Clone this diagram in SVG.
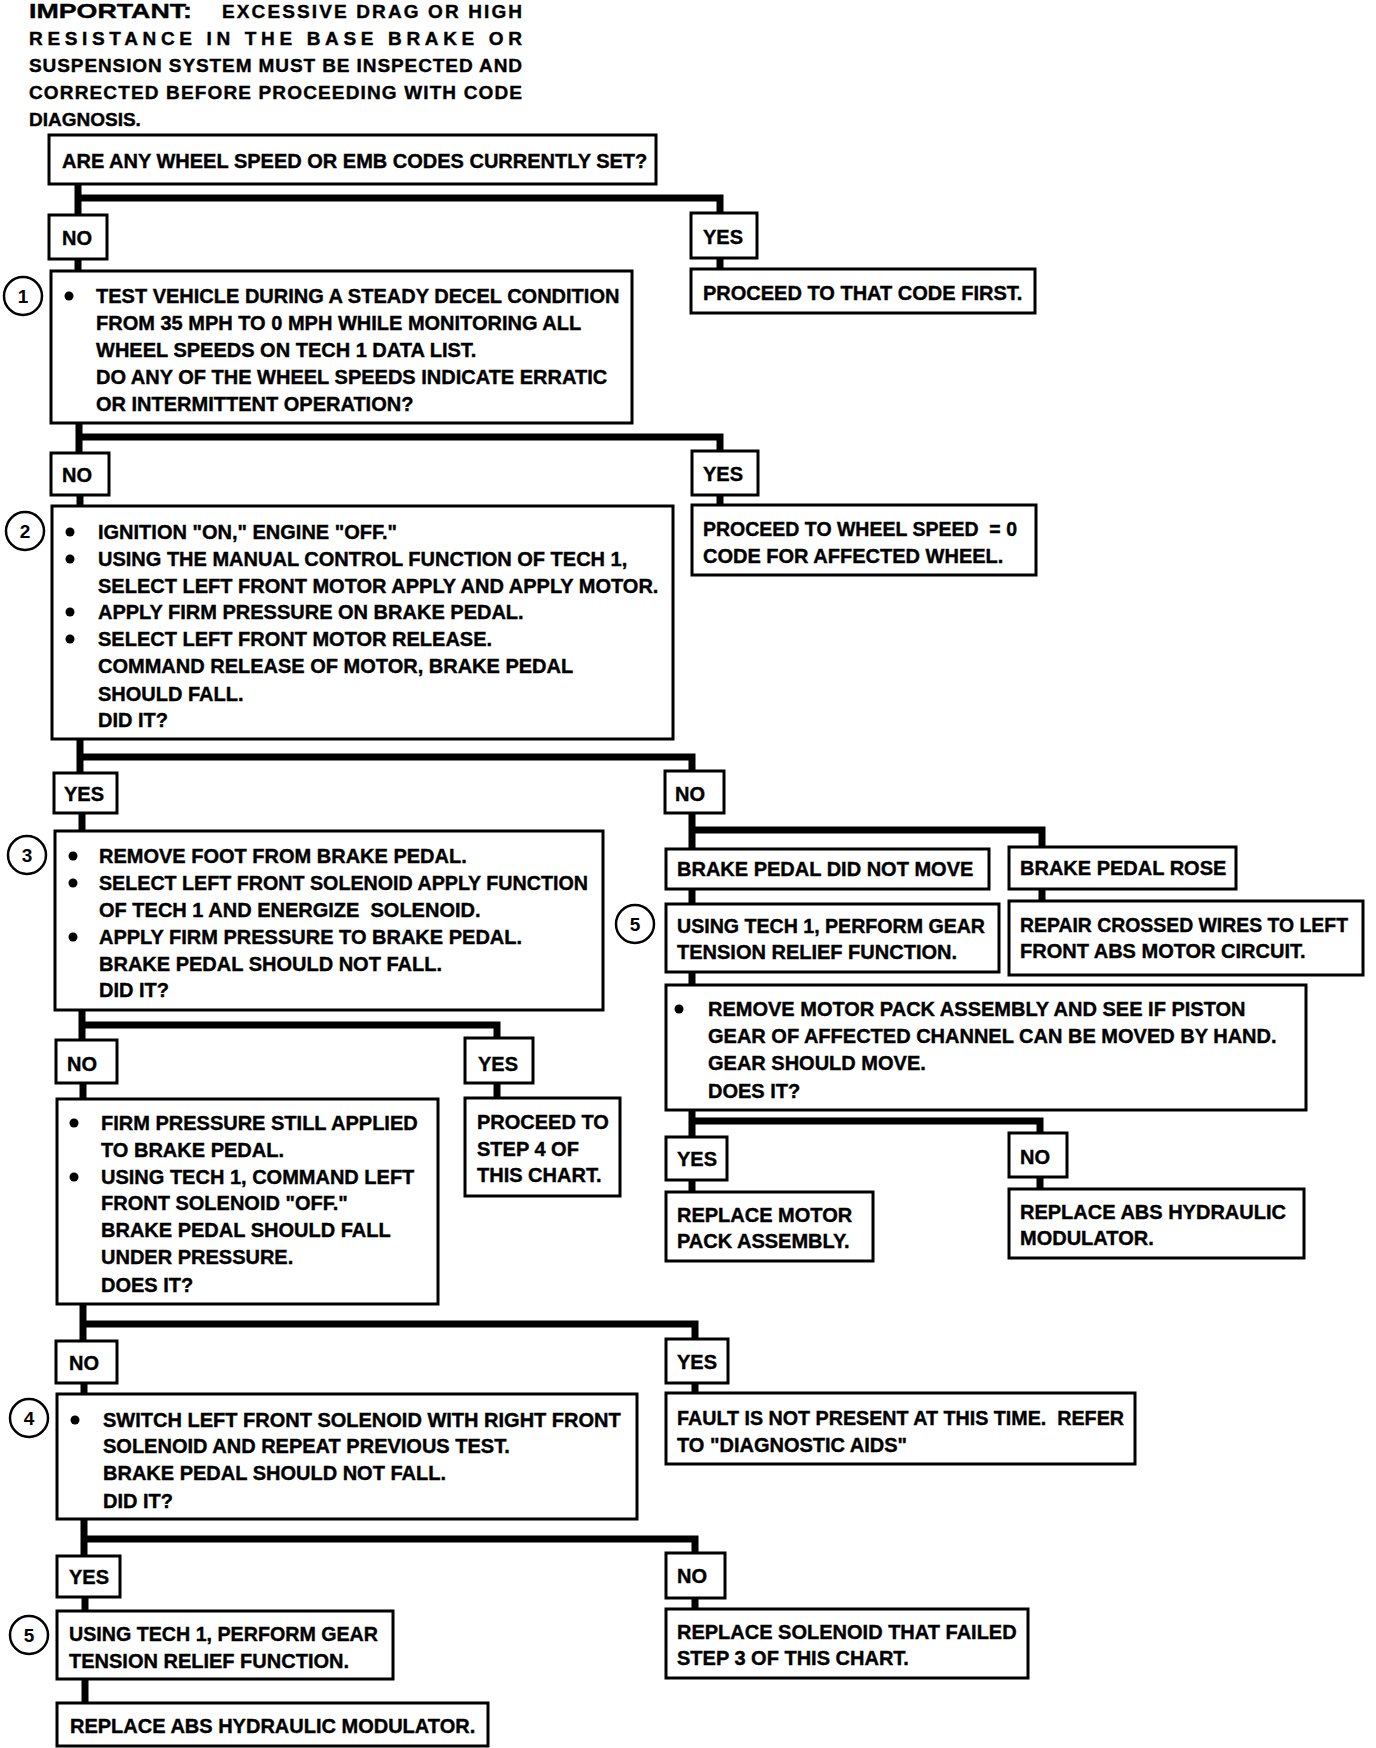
<svg xmlns="http://www.w3.org/2000/svg" width="1376" height="1748" viewBox="0 0 1376 1748">
<style>
.box{fill:#fff;stroke:#000;stroke-width:3}
.t{font-family:"Liberation Sans",Arial,sans-serif;font-weight:bold;font-size:20px;fill:#000;stroke:#000;stroke-width:0.4}
.h{font-family:"Liberation Sans",Arial,sans-serif;font-weight:bold;font-size:19px;fill:#000;stroke:#000;stroke-width:0.4}
.c{fill:none;stroke:#000;stroke-width:7;stroke-linejoin:miter}
.num{fill:#fff;stroke:#000;stroke-width:2.5}
.nt{font-family:"Liberation Sans",Arial,sans-serif;font-weight:bold;font-size:19px;fill:#000;text-anchor:middle}
.bul{fill:#000}
</style>
<rect width="1376" height="1748" fill="#fff"/>

<g id="header">
<text class="h" x="29" y="18" style="font-size:21px" textLength="163" lengthAdjust="spacingAndGlyphs">IMPORTANT:</text>
<text class="h" x="222" y="18" textLength="300" lengthAdjust="spacing">EXCESSIVE DRAG OR HIGH</text>
<text class="h" x="29" y="45" textLength="493" lengthAdjust="spacing">RESISTANCE IN THE BASE BRAKE OR</text>
<text class="h" x="29" y="72" textLength="493" lengthAdjust="spacing">SUSPENSION SYSTEM MUST BE INSPECTED AND</text>
<text class="h" x="29" y="99" textLength="493" lengthAdjust="spacing">CORRECTED BEFORE PROCEEDING WITH CODE</text>
<text class="h" x="29" y="126">DIAGNOSIS.</text>
</g>

<g id="connectors">
<path class="c" d="M78,184 V215 M78,198 H720 V213"/>
<path class="c" d="M720,258 V269"/>
<path class="c" d="M78,258 V272"/>
<path class="c" d="M79,423 V453 M79,437 H720 V451"/>
<path class="c" d="M720,495 V505"/>
<path class="c" d="M80,495 V506"/>
<path class="c" d="M80,739 V773 M80,757 H692 V771"/>
<path class="c" d="M82,813 V831"/>
<path class="c" d="M692,813 V849 M692,830 H1042 V847"/>
<path class="c" d="M692,889 V904"/>
<path class="c" d="M1042,889 V901"/>
<path class="c" d="M692,972 V985"/>
<path class="c" d="M692,1110 V1137 M692,1121 H1040 V1133"/>
<path class="c" d="M692,1180 V1192"/>
<path class="c" d="M1040,1177 V1189"/>
<path class="c" d="M82,1010 V1040 M82,1025 H497 V1038"/>
<path class="c" d="M497,1083 V1098"/>
<path class="c" d="M83,1083 V1099"/>
<path class="c" d="M83,1304 V1341 M83,1324 H695 V1339"/>
<path class="c" d="M695,1383 V1393"/>
<path class="c" d="M84,1383 V1394"/>
<path class="c" d="M84,1519 V1556 M84,1539 H695 V1553"/>
<path class="c" d="M695,1598 V1609"/>
<path class="c" d="M85,1597 V1611"/>
<path class="c" d="M85,1679 V1703"/>
</g>

<g id="q_codes">
<rect class="box" x="49" y="135" width="607" height="49"/>
<text class="t" x="62" y="168">ARE ANY WHEEL SPEED OR EMB CODES CURRENTLY SET?</text>
</g>
<g id="no1"><rect class="box" x="49" y="215" width="58" height="44"/><text class="t" x="62" y="245">NO</text></g>
<g id="yes1"><rect class="box" x="691" y="213" width="66" height="45"/><text class="t" x="703" y="244">YES</text></g>
<g id="proceed_code"><rect class="box" x="691" y="269" width="344" height="44"/><text class="t" x="703" y="300">PROCEED TO THAT CODE FIRST.</text></g>

<g id="step1">
<circle class="num" cx="23" cy="296" r="19"/><text class="nt" x="23" y="303">1</text>
<rect class="box" x="51" y="271" width="581" height="152"/>
<circle class="bul" cx="69" cy="296" r="4.5"/>
<text class="t" x="96" y="303">TEST VEHICLE DURING A STEADY DECEL CONDITION</text>
<text class="t" x="96" y="330">FROM 35 MPH TO 0 MPH WHILE MONITORING ALL</text>
<text class="t" x="96" y="357">WHEEL SPEEDS ON TECH 1 DATA LIST.</text>
<text class="t" x="96" y="384">DO ANY OF THE WHEEL SPEEDS INDICATE ERRATIC</text>
<text class="t" x="96" y="411">OR INTERMITTENT OPERATION?</text>
</g>
<g id="no2"><rect class="box" x="51" y="453" width="58" height="42"/><text class="t" x="62" y="482">NO</text></g>
<g id="yes2"><rect class="box" x="692" y="451" width="66" height="44"/><text class="t" x="703" y="481">YES</text></g>
<g id="proceed_wheel"><rect class="box" x="692" y="505" width="344" height="70"/>
<text class="t" x="703" y="536" style="white-space:pre" textLength="314" lengthAdjust="spacingAndGlyphs">PROCEED TO WHEEL SPEED  = 0</text>
<text class="t" x="703" y="563">CODE FOR AFFECTED WHEEL.</text></g>

<g id="step2">
<circle class="num" cx="25" cy="531" r="19"/><text class="nt" x="25" y="538">2</text>
<rect class="box" x="52" y="506" width="621" height="233"/>
<circle class="bul" cx="70" cy="532" r="4.5"/>
<circle class="bul" cx="70" cy="559" r="4.5"/>
<circle class="bul" cx="70" cy="612" r="4.5"/>
<circle class="bul" cx="70" cy="639" r="4.5"/>
<text class="t" x="98" y="539">IGNITION "ON," ENGINE "OFF."</text>
<text class="t" x="98" y="566">USING THE MANUAL CONTROL FUNCTION OF TECH 1,</text>
<text class="t" x="98" y="593">SELECT LEFT FRONT MOTOR APPLY AND APPLY MOTOR.</text>
<text class="t" x="98" y="619">APPLY FIRM PRESSURE ON BRAKE PEDAL.</text>
<text class="t" x="98" y="646">SELECT LEFT FRONT MOTOR RELEASE.</text>
<text class="t" x="98" y="673">COMMAND RELEASE OF MOTOR, BRAKE PEDAL</text>
<text class="t" x="98" y="701">SHOULD FALL.</text>
<text class="t" x="98" y="727">DID IT?</text>
</g>
<g id="yes3"><rect class="box" x="54" y="773" width="63" height="40"/><text class="t" x="64" y="801">YES</text></g>
<g id="no3"><rect class="box" x="665" y="771" width="59" height="42"/><text class="t" x="675" y="801">NO</text></g>

<g id="pedal_not_move"><rect class="box" x="666" y="849" width="323" height="40"/><text class="t" x="677" y="876">BRAKE PEDAL DID NOT MOVE</text></g>
<g id="pedal_rose"><rect class="box" x="1009" y="847" width="227" height="42"/><text class="t" x="1020" y="875">BRAKE PEDAL ROSE</text></g>
<g id="step5_right">
<circle class="num" cx="635" cy="924" r="19"/><text class="nt" x="635" y="931">5</text>
<rect class="box" x="666" y="904" width="333" height="68"/>
<text class="t" x="677" y="933" textLength="308" lengthAdjust="spacingAndGlyphs">USING TECH 1, PERFORM GEAR</text>
<text class="t" x="677" y="959">TENSION RELIEF FUNCTION.</text>
</g>
<g id="repair_wires"><rect class="box" x="1009" y="901" width="354" height="74"/>
<text class="t" x="1020" y="932" textLength="328" lengthAdjust="spacingAndGlyphs">REPAIR CROSSED WIRES TO LEFT</text>
<text class="t" x="1020" y="958">FRONT ABS MOTOR CIRCUIT.</text></g>
<g id="remove_motor"><rect class="box" x="666" y="985" width="640" height="125"/>
<circle class="bul" cx="679" cy="1009" r="4.5"/>
<text class="t" x="708" y="1016">REMOVE MOTOR PACK ASSEMBLY AND SEE IF PISTON</text>
<text class="t" x="708" y="1043">GEAR OF AFFECTED CHANNEL CAN BE MOVED BY HAND.</text>
<text class="t" x="708" y="1070">GEAR SHOULD MOVE.</text>
<text class="t" x="708" y="1098">DOES IT?</text></g>
<g id="yes4"><rect class="box" x="666" y="1137" width="61" height="43"/><text class="t" x="677" y="1166">YES</text></g>
<g id="no4"><rect class="box" x="1009" y="1133" width="58" height="44"/><text class="t" x="1020" y="1164">NO</text></g>
<g id="replace_motor"><rect class="box" x="666" y="1192" width="207" height="69"/>
<text class="t" x="677" y="1222">REPLACE MOTOR</text>
<text class="t" x="677" y="1248">PACK ASSEMBLY.</text></g>
<g id="replace_mod_right"><rect class="box" x="1009" y="1189" width="295" height="69"/>
<text class="t" x="1020" y="1219">REPLACE ABS HYDRAULIC</text>
<text class="t" x="1020" y="1245">MODULATOR.</text></g>

<g id="step3">
<circle class="num" cx="27" cy="855" r="19"/><text class="nt" x="27" y="862">3</text>
<rect class="box" x="55" y="831" width="548" height="179"/>
<circle class="bul" cx="73" cy="856" r="4.5"/>
<circle class="bul" cx="73" cy="883" r="4.5"/>
<circle class="bul" cx="73" cy="937" r="4.5"/>
<text class="t" x="99" y="863">REMOVE FOOT FROM BRAKE PEDAL.</text>
<text class="t" x="99" y="890" textLength="489" lengthAdjust="spacingAndGlyphs">SELECT LEFT FRONT SOLENOID APPLY FUNCTION</text>
<text class="t" x="99" y="917" style="white-space:pre">OF TECH 1 AND ENERGIZE  SOLENOID.</text>
<text class="t" x="99" y="944">APPLY FIRM PRESSURE TO BRAKE PEDAL.</text>
<text class="t" x="99" y="971">BRAKE PEDAL SHOULD NOT FALL.</text>
<text class="t" x="99" y="997">DID IT?</text>
</g>
<g id="no5"><rect class="box" x="56" y="1040" width="61" height="43"/><text class="t" x="67" y="1071">NO</text></g>
<g id="yes5"><rect class="box" x="465" y="1038" width="68" height="45"/><text class="t" x="478" y="1071">YES</text></g>
<g id="proceed_step4"><rect class="box" x="465" y="1098" width="155" height="98"/>
<text class="t" x="477" y="1129">PROCEED TO</text>
<text class="t" x="477" y="1156">STEP 4 OF</text>
<text class="t" x="477" y="1182">THIS CHART.</text></g>
<g id="firm_pressure"><rect class="box" x="57" y="1099" width="381" height="205"/>
<circle class="bul" cx="74" cy="1123" r="4.5"/>
<circle class="bul" cx="74" cy="1177" r="4.5"/>
<text class="t" x="101" y="1130">FIRM PRESSURE STILL APPLIED</text>
<text class="t" x="101" y="1157">TO BRAKE PEDAL.</text>
<text class="t" x="101" y="1184">USING TECH 1, COMMAND LEFT</text>
<text class="t" x="101" y="1210">FRONT SOLENOID "OFF."</text>
<text class="t" x="101" y="1237">BRAKE PEDAL SHOULD FALL</text>
<text class="t" x="101" y="1264">UNDER PRESSURE.</text>
<text class="t" x="101" y="1292">DOES IT?</text></g>
<g id="no6"><rect class="box" x="56" y="1341" width="61" height="42"/><text class="t" x="69" y="1370">NO</text></g>
<g id="yes6"><rect class="box" x="666" y="1339" width="62" height="44"/><text class="t" x="677" y="1369">YES</text></g>
<g id="fault_not_present"><rect class="box" x="666" y="1393" width="469" height="71"/>
<text class="t" x="677" y="1425" style="white-space:pre" textLength="447" lengthAdjust="spacingAndGlyphs">FAULT IS NOT PRESENT AT THIS TIME.  REFER</text>
<text class="t" x="677" y="1452">TO "DIAGNOSTIC AIDS"</text></g>
<g id="step4">
<circle class="num" cx="29" cy="1418" r="19"/><text class="nt" x="29" y="1425">4</text>
<rect class="box" x="57" y="1394" width="580" height="125"/>
<circle class="bul" cx="75" cy="1420" r="4.5"/>
<text class="t" x="103" y="1427">SWITCH LEFT FRONT SOLENOID WITH RIGHT FRONT</text>
<text class="t" x="103" y="1453">SOLENOID AND REPEAT PREVIOUS TEST.</text>
<text class="t" x="103" y="1480">BRAKE PEDAL SHOULD NOT FALL.</text>
<text class="t" x="103" y="1508">DID IT?</text>
</g>
<g id="yes7"><rect class="box" x="57" y="1556" width="63" height="41"/><text class="t" x="69" y="1584">YES</text></g>
<g id="no7"><rect class="box" x="666" y="1553" width="59" height="45"/><text class="t" x="677" y="1583">NO</text></g>
<g id="replace_solenoid"><rect class="box" x="666" y="1609" width="362" height="69"/>
<text class="t" x="677" y="1639">REPLACE SOLENOID THAT FAILED</text>
<text class="t" x="677" y="1665">STEP 3 OF THIS CHART.</text></g>
<g id="step5_bottom">
<circle class="num" cx="29" cy="1635" r="19"/><text class="nt" x="29" y="1642">5</text>
<rect class="box" x="57" y="1611" width="336" height="68"/>
<text class="t" x="69" y="1641" textLength="309" lengthAdjust="spacingAndGlyphs">USING TECH 1, PERFORM GEAR</text>
<text class="t" x="69" y="1668">TENSION RELIEF FUNCTION.</text>
</g>
<g id="replace_mod_bottom"><rect class="box" x="57" y="1703" width="431" height="43"/>
<text class="t" x="70" y="1733">REPLACE ABS HYDRAULIC MODULATOR.</text></g>
</svg>
